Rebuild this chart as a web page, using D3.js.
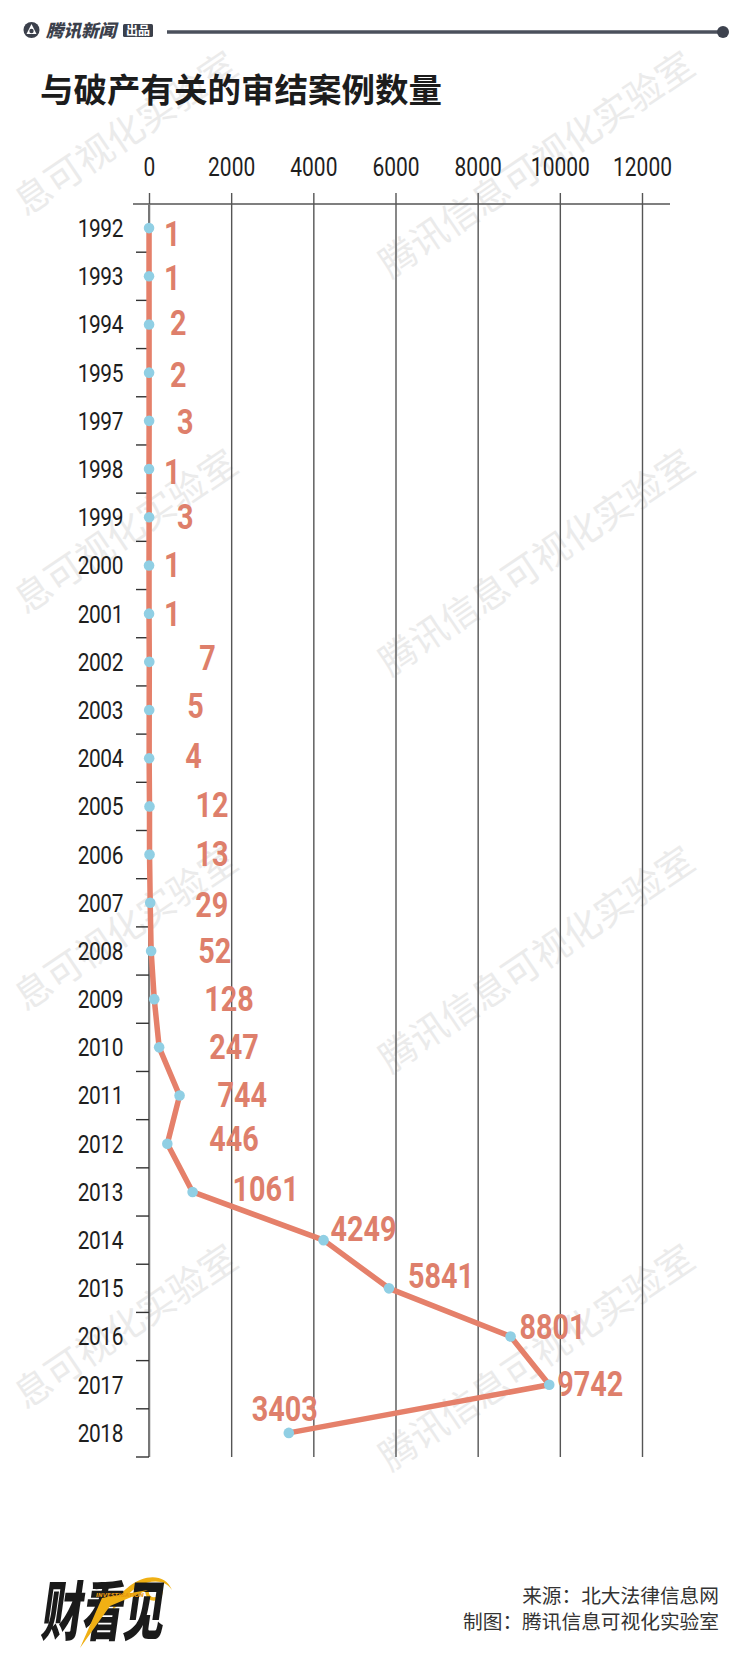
<!DOCTYPE html>
<html><head><meta charset="utf-8">
<script src="https://cdn.jsdelivr.net/npm/d3@7"></script>
<style>body{margin:0;background:#fff;} svg{display:block;}</style>
</head><body><svg id="c" width="752" height="1658"></svg>
<script>
// ---- data ----
const years = ["1992","1993","1994","1995","1997","1998","1999","2000","2001","2002","2003","2004","2005","2006","2007","2008","2009","2010","2011","2012","2013","2014","2015","2016","2017","2018"];
const cases = [1,1,2,2,3,1,3,1,1,7,5,4,12,13,29,52,128,247,744,446,1061,4249,5841,8801,9742,3403];
const xTicks = [0,2000,4000,6000,8000,10000,12000];
const titleText = "与破产有关的审结案例数量";
const sourceText = "来源：北大法律信息网";
const creditText = "制图：腾讯信息可视化实验室";
const watermarkText = "腾讯信息可视化实验室";
const watermarkCut = "息可视化实验室";
// manual label nudges (dx, dy) relative to each point, like the designer's placement
const labelNudge = [[15,6],[15,2],[21,-1],[21,2],[28,1],[15,3],[28,0],[15,0],[15,0],[50,-4],[38,-4],[36,-2],[46,-1],[46,-1],[45,2],[47,0],[50,0],[50,0],[38,-1],[42,-5],[40,-3],[7,-11],[19,-12],[9,-10],[8,-1],[-37,-24]];

(function(){
const svg = d3.select("#c");
svg.append("rect").attr("width",752).attr("height",1658).attr("fill","#fff");
const NUMFONT = "Roboto,'Liberation Sans',sans-serif";

// ---- watermarks ----
const wm = svg.append("g");
[162,560,957,1355].forEach(cy => {
  wm.append("text").attr("transform",`translate(535,${cy}) rotate(-34)`)
    .attr("text-anchor","middle").attr("dominant-baseline","central")
    .attr("font-family","'Noto Sans CJK SC'").attr("font-size",37)
    .attr("fill","#ebebeb").text(watermarkText);
  wm.append("text").attr("transform",`translate(78,${cy}) rotate(-34) translate(185,0)`)
    .attr("text-anchor","end").attr("dominant-baseline","central")
    .attr("font-family","'Noto Sans CJK SC'").attr("font-size",37)
    .attr("fill","#ebebeb").text(watermarkCut);
});

// ---- header ----
const hdr = svg.append("g");
hdr.append("circle").attr("cx",31.5).attr("cy",30).attr("r",8).attr("fill","#3b404b");
hdr.append("path").attr("d","M31.5,24 L36.5,34 L26.5,34 Z").attr("fill","#fff");
hdr.append("circle").attr("cx",31.5).attr("cy",31).attr("r",2.2).attr("fill","#3b404b");
hdr.append("text").attr("transform","translate(46,36.5) skewX(-14)")
  .attr("font-family","'Noto Sans CJK SC'").attr("font-weight",900).attr("font-size",17.5)
  .attr("fill","#3b404b").text("腾讯新闻");
hdr.append("rect").attr("x",123).attr("y",24).attr("width",30).attr("height",13).attr("rx",1.5).attr("fill","#3b404b");
hdr.append("text").attr("x",138).attr("y",34.5).attr("text-anchor","middle")
  .attr("font-family","'Noto Sans CJK SC'").attr("font-weight",700).attr("font-size",12)
  .attr("fill","#fff").text("出品");
hdr.append("line").attr("x1",167).attr("x2",723).attr("y1",32).attr("y2",32)
  .attr("stroke","#4b505c").attr("stroke-width",3.5);
hdr.append("circle").attr("cx",723).attr("cy",32).attr("r",6).attr("fill","#3d424e");

// ---- title ----
svg.append("text").attr("x",40).attr("y",87).attr("dominant-baseline","central")
  .attr("font-family","'Noto Sans CJK SC'").attr("font-weight",700).attr("font-size",33.5)
  .attr("fill","#1c1c1c").text(titleText);

// ---- scales ----
const yTop = 204, yBottom = 1457;
const x = d3.scaleLinear().domain([0,12000]).range([149,642]);
const y = d3.scaleBand().domain(years).range([yTop,yBottom]);
const bw = y.bandwidth();
const yc = d => y(d) + bw/2;

// ---- top axis with gridlines ----
const gx = svg.append("g").attr("transform",`translate(0,${yTop})`)
  .call(d3.axisTop(x).tickValues(xTicks).tickSizeOuter(0).tickFormat(d3.format("d")));
gx.select(".domain").remove();
gx.selectAll(".tick line").attr("y1",-11).attr("y2",yBottom-yTop)
  .attr("stroke","#555").attr("stroke-width",1.4);
gx.selectAll(".tick text").attr("y",-37).attr("dy","0.35em")
  .attr("transform","scale(0.84,1)")
  .attr("font-family",NUMFONT).attr("font-size",25).attr("fill","#1e1e1e");
svg.append("line").attr("x1",133).attr("x2",670).attr("y1",yTop).attr("y2",yTop)
  .attr("stroke","#555").attr("stroke-width",1.6);

// ---- left axis ----
svg.append("line").attr("x1",x(0)).attr("x2",x(0)).attr("y1",yTop).attr("y2",yBottom)
  .attr("stroke","#777").attr("stroke-width",2);
svg.append("g").selectAll("text").data(years).join("text")
  .attr("transform",d=>`translate(123,${yc(d)}) scale(0.82,1)`)
  .attr("text-anchor","end").attr("dy","0.35em")
  .attr("font-family",NUMFONT).attr("font-size",25.5).attr("fill","#1e1e1e")
  .attr("letter-spacing",-0.5).text(d=>d);
svg.append("g").selectAll("line").data(years).join("line")
  .attr("x1",x(0)-13).attr("x2",x(0))
  .attr("y1",d=>y(d)+bw).attr("y2",d=>y(d)+bw)
  .attr("stroke","#333").attr("stroke-width",1.4);

// ---- line + points ----
const pts = years.map((yr,i)=>({yr, v:cases[i], i}));
svg.append("path").datum(pts)
  .attr("d", d3.line().x(d=>x(d.v)).y(d=>yc(d.yr)))
  .attr("fill","none").attr("stroke","#e5806a").attr("stroke-width",5.5)
  .attr("stroke-linejoin","round").attr("stroke-linecap","round");
svg.append("g").selectAll("circle").data(pts).join("circle")
  .attr("cx",d=>x(d.v)).attr("cy",d=>yc(d.yr)).attr("r",5.3).attr("fill","#90cfe4");

// ---- value labels ----
svg.append("g").selectAll("text").data(pts).join("text")
  .attr("transform",d=>`translate(${x(d.v)+labelNudge[d.i][0]},${yc(d.yr)+12+labelNudge[d.i][1]}) scale(0.8,1)`)
  .attr("font-family",NUMFONT)
  .attr("font-weight",700).attr("font-size",36).attr("fill","#de7f6b")
  .text(d=>d.v);

// ---- footer ----
svg.append("text").attr("x",719).attr("y",1594).attr("text-anchor","end").attr("dominant-baseline","central")
  .attr("font-family","'Noto Sans CJK SC'").attr("font-size",19.7).attr("fill","#333").text(sourceText);
svg.append("text").attr("x",719).attr("y",1620).attr("text-anchor","end").attr("dominant-baseline","central")
  .attr("font-family","'Noto Sans CJK SC'").attr("font-size",19.7).attr("fill","#333").text(creditText);

// ---- bottom logo ----
const lg = svg.append("g");
lg.append("path").attr("d","M112,1610 C124,1578 162,1566 172,1590 C164,1576 138,1578 120,1604 Z").attr("fill","#f0b014");
lg.append("circle").attr("cx",154).attr("cy",1592).attr("r",7).attr("fill","none").attr("stroke","#f3b51c").attr("stroke-width",3.5);
lg.append("text").attr("transform","translate(40,1635) skewX(-8) scale(0.95,1.5)")
  .attr("font-family","'Noto Sans CJK SC'").attr("font-weight",900).attr("font-size",43)
  .attr("fill","#1a1a1a").text("财看见");
lg.append("path").attr("d","M80,1648 L102,1598 L148,1590 L110,1606 Z").attr("fill","#f0b014");
lg.append("text").attr("x",96).attr("y",1597).attr("font-family","'DejaVu Sans'")
  .attr("font-weight",700).attr("font-size",5.5).attr("font-style","italic").attr("fill","#e89a10").text("INVESTIGATION");
})();
</script></body></html>
